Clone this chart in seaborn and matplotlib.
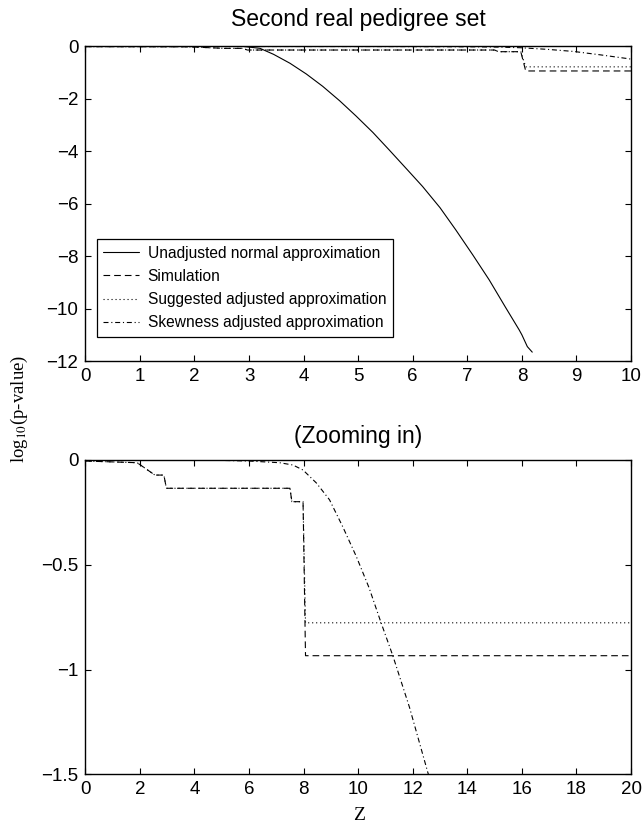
import numpy as np
import pandas as pd
import matplotlib
matplotlib.use("Agg")
import matplotlib.pyplot as plt
import seaborn as sns

# ---------------- data ----------------
series_names = ["Unadjusted normal approximation", "Simulation",
                "Suggested adjusted approximation", "Skewness adjusted approximation"]

z_unadj = [2.9, 3.2, 3.45, 3.75, 4.05, 4.35, 4.66, 4.96, 5.27, 5.57, 5.9, 6.18,
           6.5, 6.79, 7.1, 7.4, 7.7, 7.95, 8.0, 8.1, 8.19]
p_unadj = [0.0, -0.07, -0.3, -0.64, -1.05, -1.52, -2.07, -2.65, -3.28, -3.95, -4.7, -5.34,
           -6.15, -7.0, -7.95, -8.9, -9.95, -10.81, -11.0, -11.45, -11.66]

z_sim = [0.0, 1.9, 2.55, 2.88, 2.97, 7.5, 7.57, 7.98, 8.07, 20.0]
p_sim = [-0.005, -0.013, -0.072, -0.072, -0.135, -0.135, -0.199, -0.199, -0.934, -0.934]

z_sug = [0.0, 1.9, 2.55, 2.88, 2.97, 7.5, 7.57, 7.98, 8.07, 20.0]
p_sug = [-0.005, -0.013, -0.072, -0.072, -0.135, -0.135, -0.199, -0.199, -0.777, -0.777]

z_skew = [0.0, 5.0, 6.0, 7.12, 7.61, 7.98, 8.47, 8.95, 9.44, 9.93, 10.4, 10.84,
          11.27, 11.88, 12.55, 13.0]
p_skew = [0.0, -0.002, -0.005, -0.013, -0.024, -0.048, -0.11, -0.19, -0.32, -0.46, -0.61,
          -0.777, -0.934, -1.18, -1.49, -1.68]

top_xticks = list(range(0, 11))
top_yticks = [0, -2, -4, -6, -8, -10, -12]
bot_xticks = list(range(0, 21, 2))
bot_yticks = [0, -0.5, -1, -1.5]
bot_yticklabels = ["0", "\u22120.5", "\u22121", "\u22121.5"]

# ---------------- build tidy frames ----------------
def frame(zs, ps, name):
    return pd.DataFrame({"Z": zs, "logp": ps, "series": name})

df_all = pd.concat([frame(z_unadj, p_unadj, series_names[0]),
                    frame(z_sim, p_sim, series_names[1]),
                    frame(z_sug, p_sug, series_names[2]),
                    frame(z_skew, p_skew, series_names[3])], ignore_index=True)
df_zoom = df_all[df_all["series"] != series_names[0]]

dash_map = {series_names[0]: "",
            series_names[1]: (6, 3.6),
            series_names[2]: (1, 2.6),
            series_names[3]: (4.5, 2.5, 1, 2.5)}

# ---------------- style ----------------
sns.set_style("ticks")
plt.rcParams.update({
    "font.family": ["Liberation Sans", "DejaVu Sans"],
    "mathtext.fontset": "stix",
    "text.color": "black", "axes.labelcolor": "black",
    "xtick.direction": "in", "ytick.direction": "in",
    "xtick.top": True, "ytick.right": True,
    "xtick.major.size": 4, "ytick.major.size": 4,
    "xtick.major.width": 0.8, "ytick.major.width": 0.8,
    "axes.linewidth": 1.0, "axes.edgecolor": "black",
    "xtick.color": "black", "ytick.color": "black",
    "xtick.labelcolor": "black", "ytick.labelcolor": "black",
})

fig = plt.figure(figsize=(6.42, 8.30), dpi=100)
ax1 = fig.add_axes([0.1329, 0.5650, 0.8500, 0.3790])
ax2 = fig.add_axes([0.1329, 0.0671, 0.8500, 0.3787])

lw = 0.8
sns.lineplot(data=df_all, x="Z", y="logp", style="series", style_order=series_names,
             dashes=dash_map, color="black", linewidth=lw, estimator=None, sort=False,
             legend=False, ax=ax1)
sns.lineplot(data=df_zoom, x="Z", y="logp", style="series", style_order=series_names[1:],
             dashes={k: dash_map[k] for k in series_names[1:]}, color="black",
             linewidth=lw, estimator=None, sort=False, legend=False, ax=ax2)

# top panel
ax1.set_xlim(0, 10)
ax1.set_ylim(-12, 0)
ax1.set_xticks(top_xticks)
ax1.set_yticks(top_yticks)
ax1.set_yticklabels(["0" if v == 0 else "\u2212" + str(abs(v)) for v in top_yticks])
ax1.set_xlabel("")
ax1.set_ylabel("")
ax1.set_title("Second real pedigree set", fontsize=16.5, pad=15, color="black")

handles = ax1.get_lines()[:4]
leg = ax1.legend(handles, series_names, loc="upper left", bbox_to_anchor=(0.021, 0.387),
                 fontsize=11.2, frameon=True, fancybox=False, framealpha=1,
                 edgecolor="black", borderpad=0.42, labelspacing=0.52,
                 handlelength=2.3, handletextpad=0.55, borderaxespad=0)
leg.get_frame().set_linewidth(0.9)
for t in leg.get_texts():
    t.set_color("black")

# bottom panel
ax2.set_xlim(0, 20)
ax2.set_ylim(-1.5, 0)
ax2.set_xticks(bot_xticks)
ax2.set_yticks(bot_yticks)
ax2.set_yticklabels(bot_yticklabels)
ax2.set_xlabel("")
ax2.set_ylabel("")
ax2.set_title("(Zooming in)", fontsize=16.5, pad=12, color="black")

for ax in (ax1, ax2):
    ax.tick_params(labelsize=13.5, pad=5)
    for s in ax.spines.values():
        s.set_visible(True)
        s.set_color("black")

fig.text(0.030, 0.507, r"log$_{10}$(p-value)", rotation=90, ha="center", va="center",
         fontsize=13.5, family=["Liberation Serif", "DejaVu Serif"])
fig.text(0.56, 0.018, "Z", ha="center", va="center", fontsize=14,
         family=["Liberation Serif", "DejaVu Serif"])

fig.savefig("out.png", dpi=100)
